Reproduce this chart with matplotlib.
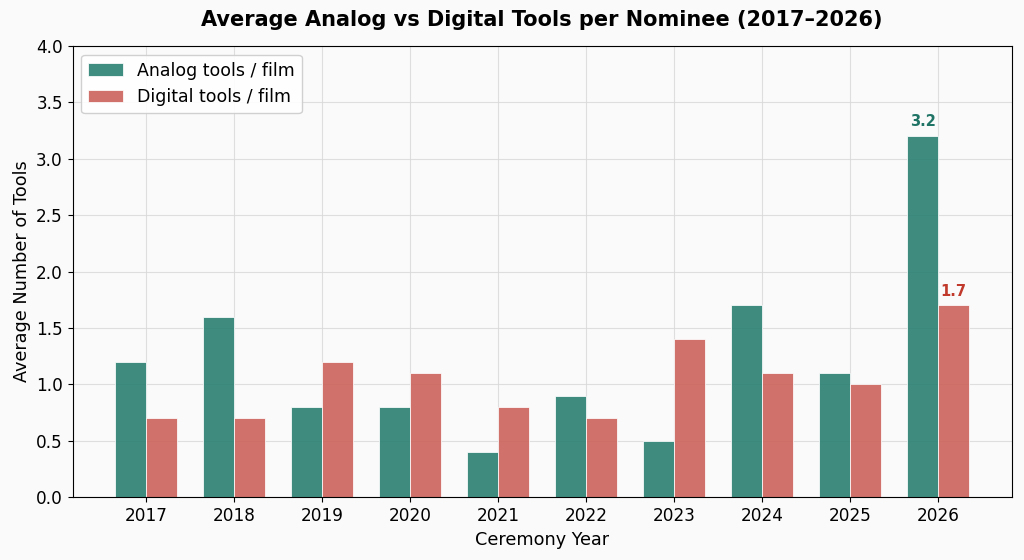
import numpy as np
import matplotlib.pyplot as plt

plt.rcParams['font.family'] = ['DejaVu Sans']

years = ['2017', '2018', '2019', '2020', '2021', '2022', '2023', '2024', '2025', '2026']
analog = [1.2, 1.6, 0.8, 0.8, 0.4, 0.9, 0.5, 1.7, 1.1, 3.2]
digital = [0.7, 0.7, 1.2, 1.1, 0.8, 0.7, 1.4, 1.1, 1.0, 1.7]

teal = '#2a8072'
red = '#cc625b'

fig, ax = plt.subplots(figsize=(10.24, 5.6), dpi=100)
fig.patch.set_facecolor('#fafafa')
ax.set_facecolor('#fafafa')

x = np.arange(len(years))
w = 0.35
ax.grid(True, color='#d8d8d8', linewidth=0.8, alpha=0.8)
ax.set_axisbelow(True)
ax.bar(x - w / 2, analog, w, color=teal, alpha=0.9, edgecolor='white', linewidth=0.6,
       label='Analog tools / film')
ax.bar(x + w / 2, digital, w, color=red, alpha=0.9, edgecolor='white', linewidth=0.6,
       label='Digital tools / film')

# label the latest year only
ax.text(x[-1] - w / 2, analog[-1] + 0.06, f'{analog[-1]:.1f}', ha='center', va='bottom',
        color='#1f7466', fontweight='bold', fontsize=10.5)
ax.text(x[-1] + w / 2, digital[-1] + 0.06, f'{digital[-1]:.1f}', ha='center', va='bottom',
        color='#c0392b', fontweight='bold', fontsize=10.5)

ax.set_xticks(x)
ax.set_xticklabels(years, fontsize=12.2)
ax.tick_params(axis='y', labelsize=12.2)
ax.set_ylim(0, 4.0)
ax.set_xlabel('Ceremony Year', fontsize=12.7)
ax.set_ylabel('Average Number of Tools', fontsize=12.7)
ax.set_title('Average Analog vs Digital Tools per Nominee (2017–2026)', fontsize=15,
             fontweight='bold', pad=14)
ax.legend(loc='upper left', fontsize=12.5, framealpha=0.9)

plt.subplots_adjust(left=0.071, right=0.988, top=0.918, bottom=0.112)
plt.savefig('out.png', dpi=100, facecolor=fig.get_facecolor())
